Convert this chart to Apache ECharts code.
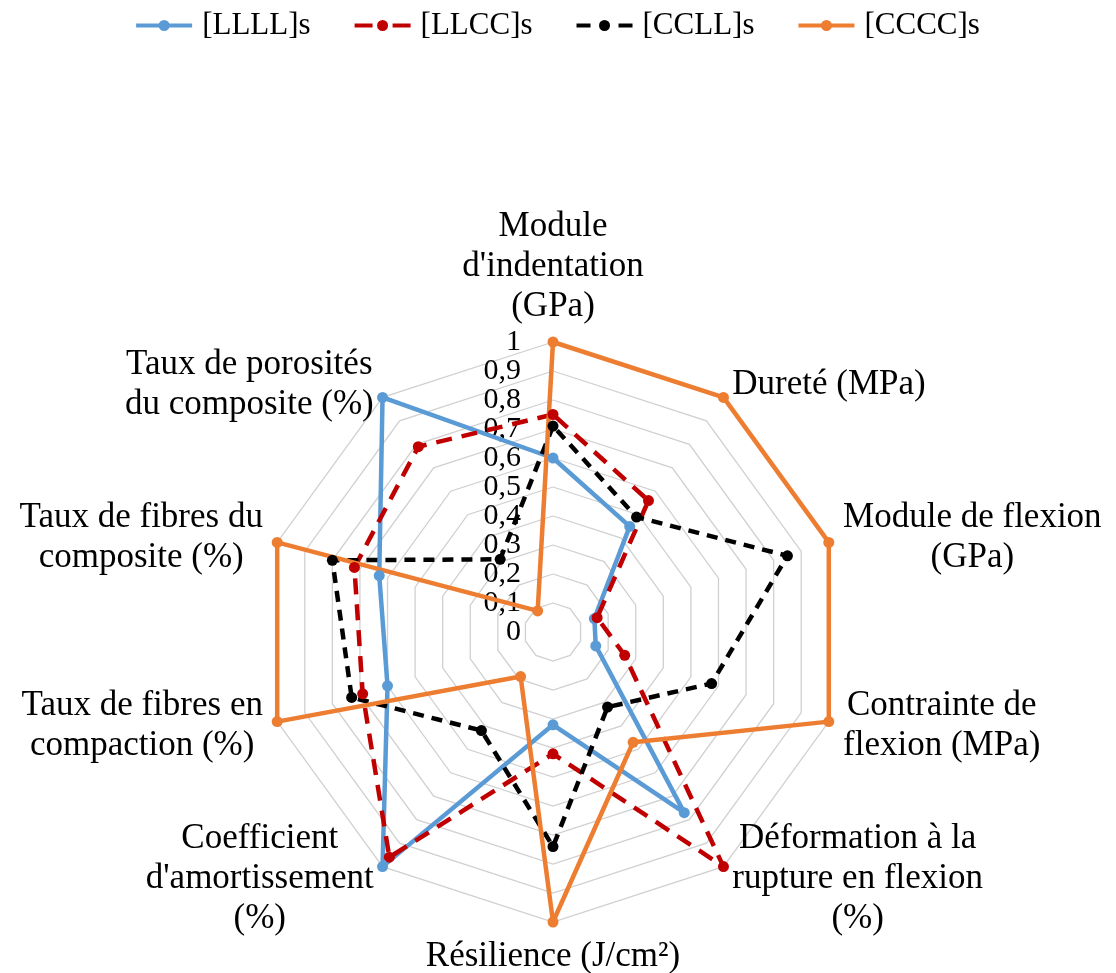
<!DOCTYPE html>
<html><head><meta charset="utf-8">
<script src="https://cdn.jsdelivr.net/npm/echarts@6/dist/echarts.min.js"></script>
<style>html,body{margin:0;padding:0;background:#fff}#c{width:1116px;height:973px}</style>
</head><body><div id="c"></div>
<script>
// Axes, listed clockwise starting from the top
const indicatorNames = [
  "Module\nd'indentation\n(GPa)",
  "Dureté (MPa)",
  "Module de flexion\n(GPa)",
  "Contrainte de\nflexion (MPa)",
  "Déformation à la\nrupture en flexion\n(%)",
  "Résilience (J/cm²)",
  "Coefficient\nd'amortissement\n(%)",
  "Taux de fibres en\ncompaction (%)",
  "Taux de fibres du\ncomposite (%)",
  "Taux de porosités\ndu composite (%)"
];
const seriesNames = ['[LLLL]s', '[LLCC]s', '[CCLL]s', '[CCCC]s'];
const LLLL = [0.60, 0.45, 0.15, 0.155, 0.77, 0.32, 1.00, 0.60, 0.63, 1.00];
const LLCC = [0.75, 0.56, 0.16, 0.26, 1.00, 0.42, 0.96, 0.69, 0.72, 0.79];
const CCLL = [0.71, 0.49, 0.85, 0.575, 0.32, 0.74, 0.42, 0.73, 0.80, 0.31];
const CCCC = [1.00, 1.00, 1.00, 1.00, 0.47, 1.00, 0.19, 1.00, 1.00, 0.09];
const tickLabels = ['0', '0,1', '0,2', '0,3', '0,4', '0,5', '0,6', '0,7', '0,8', '0,9', '1'];

const FONT = "'Liberation Serif', 'Times New Roman', serif";
// ECharts places radar indicators counter-clockwise: reorder
const order = [0, 9, 8, 7, 6, 5, 4, 3, 2, 1];
const reorder = a => order.map(i => a[i]);

// legend icons: line + circle marker (box 56 x 11)
const dot = 'M22.5,5.5 A5.5,5.5 0 1,1 33.5,5.5 A5.5,5.5 0 1,1 22.5,5.5 Z';
const iconSolid = 'path://M0,3.5 L56,3.5 L56,7.5 L0,7.5 Z ' + dot;
const iconLongDash = 'path://M0,3.5 L18,3.5 L18,7.5 L0,7.5 Z M38,3.5 L56,3.5 L56,7.5 L38,7.5 Z ' + dot;
const iconDash = 'path://M0,3.5 L14,3.5 L14,7.5 L0,7.5 Z M42,3.5 L56,3.5 L56,7.5 L42,7.5 Z ' + dot;

const styles = [
  {color: '#5B9BD5', type: 'solid', icon: iconSolid},
  {color: '#C00000', type: [16, 10], icon: iconLongDash},
  {color: '#000000', type: [11, 8], icon: iconDash},
  {color: '#ED7D31', type: 'solid', icon: iconSolid}
];
const allData = [LLLL, LLCC, CCLL, CCCC];

// tick labels split over two overlaid radar axes (even / odd ticks) so none get auto-hidden
function makeIndicators(parity, withNames) {
  return reorder(indicatorNames).map((n, i) => {
    const o = {name: withNames ? n : '', min: 0, max: 1};
    if (i === 0) {
      o.axisLabel = {
        show: true, showMinLabel: true, showMaxLabel: true, hideOverlap: false,
        margin: 32, fontSize: 30, fontFamily: FONT, color: '#000',
        formatter: v => {
          const k = Math.round(v * 10);
          return (k % 2 === parity) ? tickLabels[k] : '';
        }
      };
    }
    return o;
  });
}

const common = {
  center: [553, 632],
  radius: 290,
  startAngle: 90,
  splitNumber: 10,
  shape: 'polygon',
  nameGap: 15,
  axisLine: {show: false},
  axisTick: {show: false},
  splitArea: {show: false}
};

const chart = echarts.init(document.getElementById('c'));
chart.setOption({
  animation: false,
  backgroundColor: '#fff',
  legend: {
    top: 5, left: 'center',
    itemWidth: 56, itemHeight: 11, itemGap: 44,
    textStyle: {fontSize: 31, fontFamily: FONT, color: '#000', padding: [0, 0, 0, 5]},
    itemStyle: {borderWidth: 0},
    data: seriesNames.map((n, k) => ({name: n, icon: styles[k].icon, itemStyle: {color: styles[k].color, borderWidth: 0}}))
  },
  radar: [
    Object.assign({}, common, {
      axisName: {
        color: '#000', fontSize: 35, fontFamily: FONT, lineHeight: 40,
        formatter: v => v.split('\n').map(l => '{c|' + l + '}').join('\n'),
        rich: {c: {align: 'center', fontSize: 35, fontFamily: FONT, lineHeight: 40, color: '#000'}}
      },
      splitLine: {lineStyle: {color: '#D0D0D0', width: 1.3}},
      indicator: makeIndicators(0, true)
    }),
    Object.assign({}, common, {
      axisName: {show: false},
      splitLine: {show: false},
      indicator: makeIndicators(1, false)
    })
  ],
  series: [{
    type: 'radar',
    radarIndex: 0,
    symbol: 'circle',
    symbolSize: 11,
    data: allData.map((d, k) => ({
      name: seriesNames[k],
      value: reorder(d),
      lineStyle: {color: styles[k].color, width: 4.5, type: styles[k].type},
      itemStyle: {color: styles[k].color},
      symbol: 'circle',
      symbolSize: 11
    }))
  }]
});
</script></body></html>
